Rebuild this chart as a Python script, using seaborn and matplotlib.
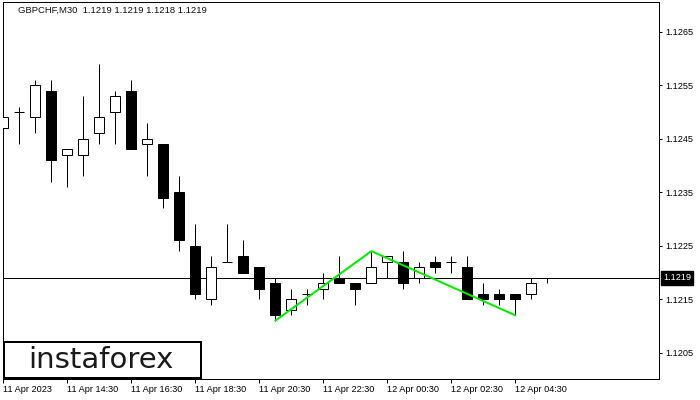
import numpy as np
import pandas as pd
import matplotlib
matplotlib.use("Agg")
import matplotlib.pyplot as plt
from matplotlib.patches import Rectangle
from matplotlib import transforms
import seaborn as sns

# GBPCHF M30 candles, 11 Apr 12:30 .. 12 Apr 05:30
opens = [1.1247, 1.1250, 1.1249, 1.1254, 1.1242, 1.1242, 1.1246, 1.1250, 1.1254, 1.1244,
         1.1244, 1.1235, 1.1225, 1.1215, 1.1222, 1.1223, 1.1221, 1.1218, 1.1213, 1.1216,
         1.1217, 1.1219, 1.1218, 1.1218, 1.1222, 1.1222, 1.1219, 1.1222, 1.1222, 1.1221,
         1.1216, 1.1216, 1.1216, 1.1216, 1.1219]
highs = [1.1251, 1.1251, 1.1256, 1.1256, 1.1243, 1.1253, 1.1259, 1.1254, 1.1256, 1.1248,
         1.1244, 1.1238, 1.1229, 1.1223, 1.1229, 1.1226, 1.1221, 1.1219, 1.1217, 1.1217,
         1.1220, 1.1223, 1.1218, 1.1224, 1.1223, 1.1224, 1.1222, 1.1223, 1.1223, 1.1223,
         1.1218, 1.1217, 1.1216, 1.1219, 1.1219]
lows = [1.1239, 1.1244, 1.1246, 1.1237, 1.1236, 1.1238, 1.1244, 1.1244, 1.1243, 1.1238,
        1.1232, 1.1224, 1.1215, 1.1214, 1.1222, 1.1220, 1.1215, 1.1211, 1.1212, 1.1214,
        1.1215, 1.1218, 1.1214, 1.1218, 1.1219, 1.1217, 1.1218, 1.1220, 1.1220, 1.1215,
        1.1214, 1.1214, 1.1212, 1.1215, 1.1218]
closes = [1.1249, 1.1250, 1.1255, 1.1241, 1.1243, 1.1245, 1.1249, 1.1253, 1.1243, 1.1245,
          1.1234, 1.1226, 1.1216, 1.1221, 1.1222, 1.1220, 1.1217, 1.1212, 1.1215, 1.1216,
          1.1218, 1.1218, 1.1217, 1.1221, 1.1223, 1.1218, 1.1221, 1.1221, 1.1222, 1.1215,
          1.1215, 1.1215, 1.1215, 1.1218, 1.1219]

# double top pattern line (bar index, price)
pattern_idx = [17, 23, 32]
pattern_price = [1.1211, 1.1224, 1.1212]

tick_idx = [0, 4, 8, 12, 16, 20, 24, 28, 32]
tick_labels = ["11 Apr 2023", "11 Apr 14:30", "11 Apr 16:30", "11 Apr 18:30", "11 Apr 20:30",
               "11 Apr 22:30", "12 Apr 00:30", "12 Apr 02:30", "12 Apr 04:30"]
price_ticks = [1.1205, 1.1215, 1.1225, 1.1235, 1.1245, 1.1255, 1.1265]
last_price = 1.1219
header = "GBPCHF,M30  1.1219 1.1219 1.1218 1.1219"

sns.set_theme(style="white")
plt.rcParams['font.family'] = ['Liberation Sans', 'DejaVu Sans']

px = 0.72  # one pixel in points at dpi 100

df = pd.DataFrame({"o": opens, "h": highs, "l": lows, "c": closes})
df["x"] = np.arange(len(df))
df["bottom"] = df[["o", "c"]].min(axis=1)
df["height"] = (df["c"] - df["o"]).abs()
df["face"] = np.where(df["c"] >= df["o"], "white", "black")

fig = plt.figure(figsize=(7, 4), dpi=100)
ax = fig.add_axes([2.7 / 700, 1 - 379 / 400, (659.3 - 2.7) / 700, (379 - 2.3) / 400])

ax.axhline(last_price, color="black", lw=px, zorder=1)
ax.vlines(df["x"], df["l"], df["h"], color="black", lw=px, zorder=2)
ax.bar(df["x"], df["height"], bottom=df["bottom"], width=0.62,
       color=df["face"], edgecolor="black", linewidth=px, zorder=3)

pat = pd.DataFrame({"x": pattern_idx, "y": pattern_price})
sns.lineplot(data=pat, x="x", y="y", color="#00ee00", lw=2 * px, ax=ax, zorder=5)

ax.set_xlim(-0.04, 41.0)
ax.set_ylim(1.12001, 1.12705)

ax.yaxis.tick_right()
ax.set_yticks(price_ticks)
ax.set_yticklabels([f"{p:.4f}" for p in price_ticks])
ax.set_xticks(tick_idx)
ax.set_xticklabels(tick_labels, ha="left")
ax.tick_params(axis="y", direction="out", length=3 * px, width=px, pad=3 * px,
               labelsize=6.6, colors="black", right=True, left=False)
ax.tick_params(axis="x", direction="out", length=4 * px, width=px, pad=2 * px,
               labelsize=6.6, colors="black", bottom=True)
ax.set_xlabel("")
ax.set_ylabel("")
for s in ax.spines.values():
    s.set_color("black")
    s.set_linewidth(px)
    s.set_visible(True)

# current price tag
trans = transforms.blended_transform_factory(fig.transFigure, ax.transData)
ax.text(663 / 700, last_price, f"{last_price:.4f}", transform=trans, ha="left", va="center",
        fontsize=6.6, color="white", clip_on=False,
        bbox=dict(boxstyle="square,pad=0.25", fc="black", ec="black"))

fig.text(18.3 / 700, 1 - 10.7 / 400, header, ha="left", va="center", fontsize=6.8, color="#111111")

# logo box
fig.add_artist(Rectangle((3.5 / 700, 1 - 378.2 / 400), (200.5 - 3.5) / 700, (378.2 - 341.5) / 400,
                         transform=fig.transFigure, fc="white", ec="black", lw=2 * px, zorder=10))
fig.text(101 / 700, 1 - 360 / 400, "instaforex", ha="center", va="center", fontsize=21,
         color="#1a1a1a", family="DejaVu Sans", zorder=11)

fig.savefig("out.png", dpi=100)
